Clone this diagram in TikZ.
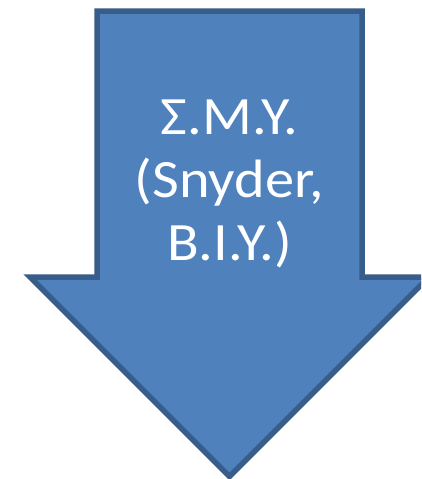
\documentclass[tikz,border=0pt]{standalone}
\usepackage{fontspec}
\setmainfont{Carlito}
\usetikzlibrary{positioning}
\definecolor{arrowfill}{HTML}{4F81BD}
\definecolor{arrowline}{HTML}{385D8A}

\begin{document}
\begin{tikzpicture}[x = 1pt, y = -1pt, shaft/.style = {fill = arrowfill, draw = arrowline, line width = 5.5pt, line join = miter}, caption/.style = {text = white, align = center, inner sep = 0pt, xscale = 1.08, transform shape, font = \fontsize{54}{63}\selectfont}]
	\clip (0,0) rectangle (421,479);
	\path[fill = white] (0,0) rectangle (421,479);
	\coordinate (tl) at (97,11);
	\coordinate (tr) at (362,11);
	\draw[shaft] (tl) -- (tr) -- (362,277) -- (429,277) -- (229.5,476.5) -- (30,277) -- (97,277) -- cycle;
	\node[caption, anchor = north] (smy) at (229.5,100) {Σ.Μ.Υ.\\(Snyder,\\Β.Ι.Υ.)};
\end{tikzpicture}
\end{document}
